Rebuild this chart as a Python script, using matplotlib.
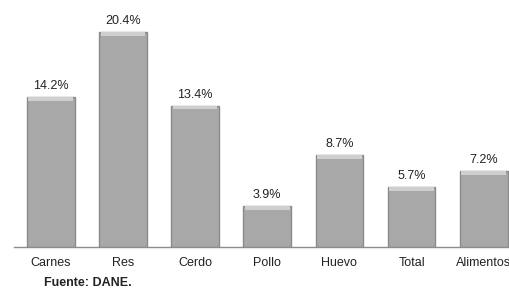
import matplotlib.pyplot as plt

categories = ["Carnes", "Res", "Cerdo", "Pollo", "Huevo", "Total", "Alimentos"]
values = [14.2, 20.4, 13.4, 3.9, 8.7, 5.7, 7.2]
labels = ["14.2%", "20.4%", "13.4%", "3.9%", "8.7%", "5.7%", "7.2%"]

plt.rcParams['font.family'] = ['Liberation Sans', 'DejaVu Sans']

fig = plt.figure(figsize=(5.09, 2.88), dpi=100)
ax = fig.add_axes([14 / 509, 41 / 288, 495 / 509, 247 / 288])

x = range(len(categories))
ax.bar(x, values, width=0.66, color="#a8a8a8", edgecolor="#8a8a8a", linewidth=1.0)
# light bevel at the top of each bar
ax.bar(x, [0.35] * len(values), bottom=[v - 0.35 for v in values], width=0.62,
       color="#cfcfcf", linewidth=0)

for xi, v, lab in zip(x, values, labels):
    ax.text(xi, v + 1.05, lab, ha="center", va="center", fontsize=9, color="#222222")

ax.set_xlim(-0.51, 6.35)
ax.set_ylim(0, 23.43)
ax.set_xticks(list(x))
ax.set_xticklabels(categories, fontsize=9, color="#222222")
ax.tick_params(axis="x", length=0, pad=7)
ax.set_yticks([])
for s in ["top", "right", "left"]:
    ax.spines[s].set_visible(False)
ax.spines["bottom"].set_color("#8c8c8c")
ax.spines["bottom"].set_linewidth(1.0)

fig.text(44 / 509, 1 - 283 / 288, "Fuente: DANE.", fontsize=9, fontweight="bold",
         ha="left", va="center", color="#222222")

fig.savefig("out.png", dpi=100)
